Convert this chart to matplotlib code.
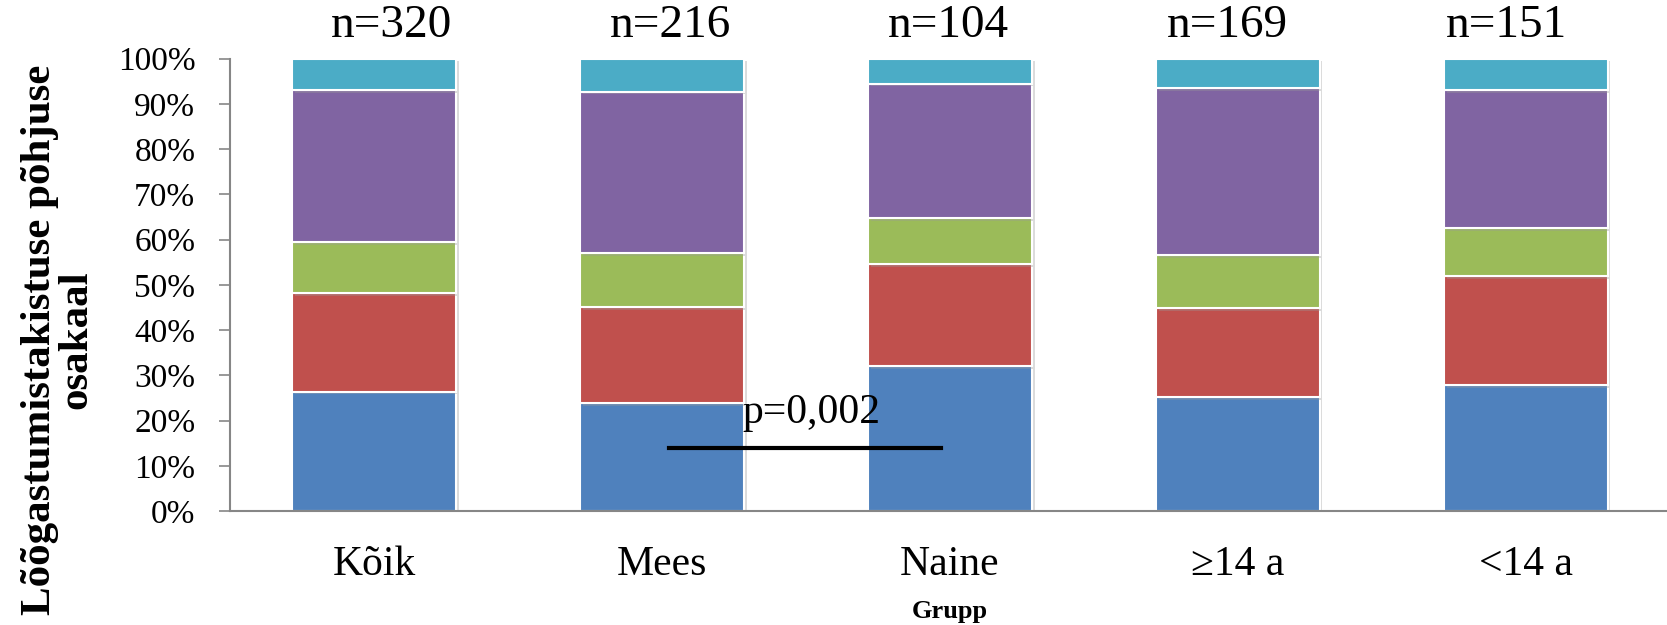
import matplotlib
matplotlib.use("Agg")
import matplotlib.pyplot as plt
import matplotlib.patheffects as pe
import numpy as np

# --- data (share of each reason, %) ---
groups = ["Kõik", "Mees", "Naine", "≥14 a", "<14 a"]
n_labels = ["n=320", "n=216", "n=104", "n=169", "n=151"]
reason_1 = [26.4, 23.8, 32.1, 25.1, 27.9]
reason_2 = [21.8, 21.3, 22.5, 19.8, 24.0]
reason_3 = [11.3, 11.9, 10.2, 11.7, 10.6]
reason_4 = [33.6, 35.7, 29.7, 36.8, 30.6]
reason_5 = [6.9, 7.3, 5.5, 6.6, 6.9]
p_text = "p=0,002"

series = [reason_1, reason_2, reason_3, reason_4, reason_5]
colors = ["#4F81BD", "#C0504D", "#9BBB59", "#8064A2", "#4BACC6"]

plt.rcParams["font.family"] = ["Liberation Serif", "DejaVu Serif"]

fig = plt.figure(figsize=(16.67, 6.25), dpi=100)
ax = fig.add_axes([0.138, 0.1824, 0.862, 0.7238])

x = np.arange(len(groups))
bottom = np.zeros(len(groups))
shadow = [pe.SimplePatchShadow(offset=(2, -2), shadow_rgbFace="#999999", alpha=0.35),
          pe.Normal()]
for vals, col in zip(series, colors):
    vals = np.array(vals) / 100.0
    bars = ax.bar(x, vals, width=0.568, bottom=bottom, color=col,
                  edgecolor="white", linewidth=1.5, zorder=2)
    for b in bars:
        b.set_path_effects(shadow)
    bottom += vals

ax.set_xlim(-0.5, 4.49)
ax.set_ylim(0, 1)
ax.set_yticks(np.linspace(0, 1, 11))
ax.set_yticklabels([f"{int(round(v * 100))}%" for v in np.linspace(0, 1, 11)])
ax.set_xticks(x)
ax.set_xticklabels(groups)

for side in ("top", "right"):
    ax.spines[side].set_visible(False)
for side in ("left", "bottom"):
    ax.spines[side].set_color("#868686")
    ax.spines[side].set_linewidth(1.5)

ax.tick_params(axis="y", length=8, width=1.2, color="#868686", pad=17,
               labelsize=24)
ax.tick_params(axis="x", length=0, pad=25, labelsize=30)

# sample sizes above bars
n_x = np.arange(len(groups)) * 0.968 + 0.06
for xi, lab in zip(n_x, n_labels):
    ax.text(xi, 1.072, lab, ha="center", va="center", fontsize=34,
            clip_on=False)

# significance marker between Mees and Naine
ax.plot([1.025, 1.97], [0.14, 0.14], color="black", linewidth=3, zorder=3)
ax.text(1.52, 0.218, p_text, ha="center", va="center", fontsize=30, zorder=4)

fig.text(0.035, 0.456, "Lõõgastumistakistuse põhjuse\nosakaal", rotation=90,
         ha="center", va="center", multialignment="center", fontsize=31,
         fontweight="bold", linespacing=0.95)
fig.text(0.5697, 0.022, "Grupp", ha="center", va="center", fontsize=19,
         fontweight="bold")

fig.savefig("out.png", dpi=100)
